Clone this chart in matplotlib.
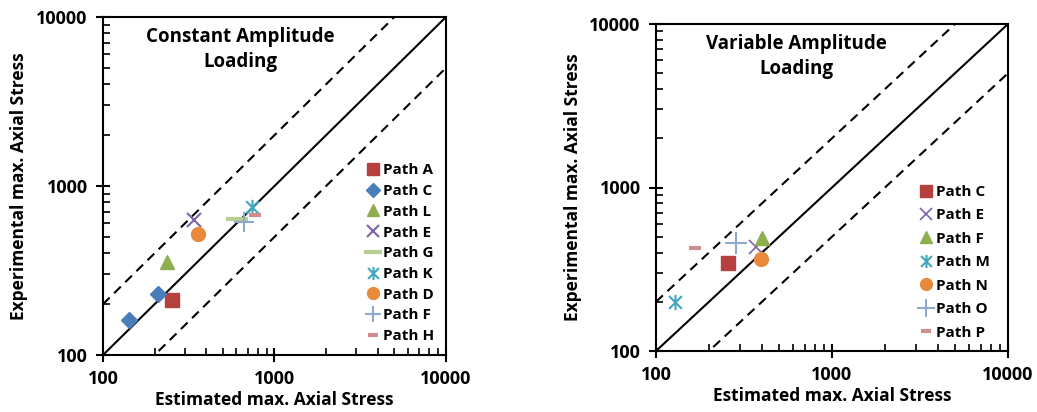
import matplotlib
matplotlib.use("Agg")
import matplotlib.pyplot as plt
import numpy as np
from matplotlib.path import Path
from matplotlib.ticker import LogLocator, NullFormatter, FixedLocator, FixedFormatter

plt.rcParams['font.family'] = ['Open Sans', 'DejaVu Sans']
plt.rcParams['font.weight'] = 'bold'

# ---- Constant amplitude data ----
ca_labels = ["Path A", "Path C", "Path L", "Path E", "Path G", "Path K", "Path D", "Path F", "Path H"]
ca_x = [[254], [142, 210], [236], [340], [603], [736], [358], [661], [769]]
ca_y = [[211], [161, 230], [357], [627], [638], [748], [518], [610], [673]]

# ---- Variable amplitude data ----
va_labels = ["Path C", "Path E", "Path F", "Path M", "Path N", "Path O", "Path P"]
va_x = [[257], [370], [400], [129], [394], [284], [166]]
va_y = [[343], [433], [494], [200], [367], [460], [428]]

ticks = [100, 1000, 10000]
tick_labels = ["100", "1000", "10000"]

# star marker: x with a vertical bar
star = Path([(-1, -1), (1, 1), (-1, 1), (1, -1), (0, -1.2), (0, 1.2)],
            [Path.MOVETO, Path.LINETO, Path.MOVETO, Path.LINETO, Path.MOVETO, Path.LINETO])

ca_styles = [
    dict(marker='s', color='#B5403E', ms=10, mew=1),
    dict(marker='D', color='#4A7EBB', ms=8, mew=1),
    dict(marker='^', color='#8FAE4F', ms=10, mew=1),
    dict(marker='x', color='#7F62A8', ms=10, mew=1.5),
    dict(marker='_', color='#B7CE93', ms=16, mew=3),
    dict(marker=star, color='#3FA6BF', ms=11, mew=1.5),
    dict(marker='o', color='#E8893C', ms=10, mew=1),
    dict(marker='+', color='#8DA9CC', ms=14, mew=1.5),
    dict(marker='_', color='#D08D8C', ms=8, mew=3),
]
va_styles = [
    dict(marker='s', color='#B5403E', ms=10, mew=1),
    dict(marker='x', color='#7F62A8', ms=10, mew=1.2),
    dict(marker='^', color='#8FAE4F', ms=10, mew=1),
    dict(marker=star, color='#3FA6BF', ms=11, mew=1.5),
    dict(marker='o', color='#E8893C', ms=10, mew=1),
    dict(marker='+', color='#8DA9CC', ms=16, mew=1.5),
    dict(marker='_', color='#D08D8C', ms=8, mew=3),
]

fig = plt.figure(figsize=(10.37, 4.12), dpi=100)
W, H = 1037, 412
ax1 = fig.add_axes([103 / W, 1 - 355 / H, (446 - 103) / W, (355 - 17) / H])
ax2 = fig.add_axes([656 / W, 1 - 351 / H, (1008 - 656) / W, (351 - 24) / H])


def setup(ax, title, title_x, labels, xs, ys, sts, legend_bbox, spacing):
    ax.set_xscale('log')
    ax.set_yscale('log')
    ax.set_xlim(100, 10000)
    ax.set_ylim(100, 10000)
    line = np.array([100, 10000])
    ax.plot(line, line, color='black', lw=1.5, zorder=1)
    ax.plot(line, line * 2, color='black', lw=1.5, ls=(0, (4.5, 3)), zorder=1)
    ax.plot(line, line / 2, color='black', lw=1.5, ls=(0, (4.5, 3)), zorder=1)
    for lab, x, y, st in zip(labels, xs, ys, sts):
        ax.plot(x, y, ls='none', marker=st['marker'], color=st['color'],
                markersize=st['ms'], markeredgewidth=st['mew'], label=lab, zorder=3)
    ax.xaxis.set_major_locator(FixedLocator(ticks))
    ax.xaxis.set_major_formatter(FixedFormatter(tick_labels))
    ax.yaxis.set_major_locator(FixedLocator(ticks))
    ax.yaxis.set_major_formatter(FixedFormatter(tick_labels))
    ax.xaxis.set_minor_locator(LogLocator(base=10, subs=np.arange(2, 10)))
    ax.yaxis.set_minor_locator(LogLocator(base=10, subs=np.arange(2, 10)))
    ax.xaxis.set_minor_formatter(NullFormatter())
    ax.yaxis.set_minor_formatter(NullFormatter())
    ax.tick_params(which='major', direction='inout', length=10, width=1.5, labelsize=13, pad=6)
    ax.tick_params(which='minor', direction='in', length=5, width=1.2)
    for lbl in ax.get_xticklabels() + ax.get_yticklabels():
        lbl.set_fontweight('bold')
    for s in ax.spines.values():
        s.set_linewidth(1.5)
    ax.set_xlabel("Estimated max. Axial Stress", fontsize=12.5, fontweight='bold', labelpad=2)
    ax.set_ylabel("Experimental max. Axial Stress", fontsize=12.5, fontweight='bold')
    ax.text(title_x, 0.97, title, transform=ax.transAxes, ha='center', va='top',
            fontsize=13.5, fontweight='bold', linespacing=1.35)
    leg = ax.legend(loc='upper left', bbox_to_anchor=legend_bbox, frameon=False,
                    fontsize=11, handlelength=1.0, handletextpad=0.15, markerscale=0.85,
                    labelspacing=spacing, borderaxespad=0, borderpad=0)
    for t in leg.get_texts():
        t.set_fontweight('bold')


setup(ax1, "Constant Amplitude\nLoading", 0.40, ca_labels, ca_x, ca_y, ca_styles,
      (0.765, 0.567), 0.44)
setup(ax2, "Variable Amplitude\nLoading", 0.40, va_labels, va_x, va_y, va_styles,
      (0.745, 0.508), 0.62)

ax1.yaxis.set_label_coords(-0.22, 0.5)
ax2.yaxis.set_label_coords(-0.21, 0.5)

fig.savefig("out.png", dpi=100)
